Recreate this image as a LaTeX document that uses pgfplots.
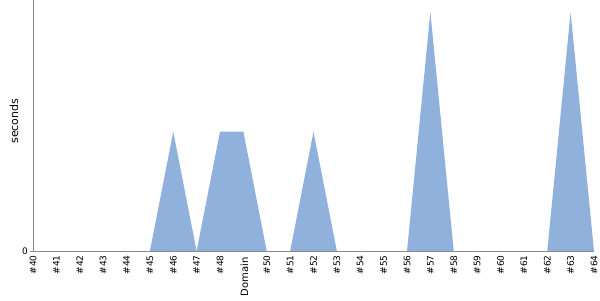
\documentclass[border=0pt]{standalone}
\usepackage{pgfplots}
\pgfplotsset{compat=1.18}
\usepackage{fontspec}
\setmainfont{DejaVu Sans}
\definecolor{areafill}{RGB}{143,177,219}
\definecolor{axgray}{RGB}{136,136,136}
\begin{document}
\begin{tikzpicture}
\begin{axis}[
  scale only axis,
  width=561bp, height=251bp,
  xmin=40, xmax=64, ymin=0, ymax=2.1,
  axis x line*=bottom, axis y line*=left,
  axis line style={axgray, -},
  xtick={40,...,64},
  xticklabels={\#40,\#41,\#42,\#43,\#44,\#45,\#46,\#47,\#48,,\#50,\#51,\#52,\#53,\#54,\#55,\#56,\#57,\#58,\#59,\#60,\#61,\#62,\#63,\#64},
  xticklabel style={rotate=90, anchor=east, font=\fontsize{9bp}{10bp}\selectfont, inner sep=1bp},
  xtick style={draw=none},
  ytick={0},
  yticklabel style={font=\fontsize{9bp}{10bp}\selectfont, inner sep=2bp},
  ytick style={axgray},
  tick align=outside, major tick length=3bp,
  xlabel={Domain},
  every axis x label/.style={at={(rel axis cs:0.375,0)}, rotate=90, anchor=east, inner sep=0pt, xshift=-6bp, yshift=-1bp, font=\fontsize{10bp}{11bp}\selectfont},
  ylabel={seconds},
  every axis y label/.style={at={(rel axis cs:0,0.5)}, rotate=90, anchor=center, xshift=4.5bp, yshift=19bp, font=\fontsize{11bp}{12bp}\selectfont},
  /pgf/number format/assume math mode=true,
  clip=false,
]
\addplot[fill=areafill, draw=none] coordinates {
(40,0) (41,0) (42,0) (43,0) (44,0) (45,0) (46,1) (47,0) (48,1) (49,1) (50,0) (51,0) (52,1) (53,0) (54,0) (55,0) (56,0) (57,2) (58,0) (59,0) (60,0) (61,0) (62,0) (63,2) (64,0)
} \closedcycle;
\coordinate (A) at (rel axis cs:0,0);
\coordinate (B) at (rel axis cs:1,1);
\end{axis}
\path (A) ++(-33bp,-49bp);
\path (B) ++(6bp,0bp);
\end{tikzpicture}
\end{document}
